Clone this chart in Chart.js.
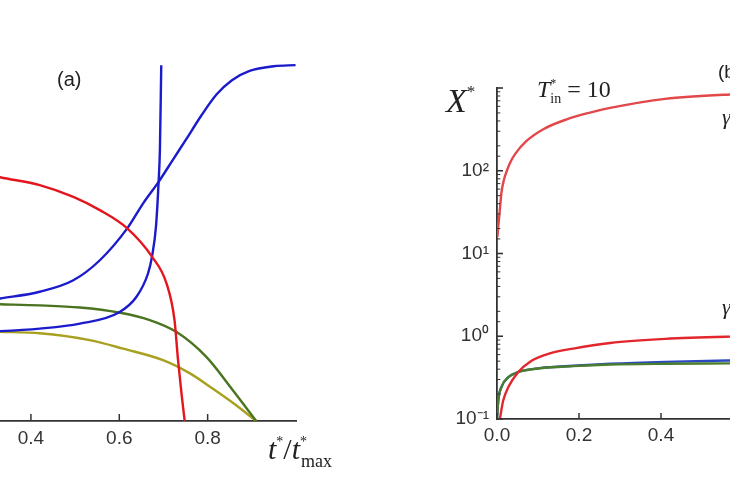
<!DOCTYPE html>
<html>
<head>
<meta charset="utf-8">
<script src="https://cdn.jsdelivr.net/npm/chart.js@4"></script>
<style>
  html, body { margin: 0; padding: 0; background: #fff; }
  body { width: 730px; height: 486px; overflow: hidden; position: relative; }
  canvas { position: absolute; top: 0; }
  .lbl { position: absolute; color: #222; white-space: nowrap; line-height: 1; }
  .serif { font-family: "Liberation Serif", "DejaVu Serif", serif; }
  .sans { font-family: "Liberation Sans", Arial, sans-serif; }
  .it { font-style: italic; }
  sup, sub { font-style: normal; line-height: 0; }
</style>
</head>
<body>
<canvas id="left" width="365" height="486" style="left:0"></canvas>
<canvas id="right" width="600" height="486" style="left:365px"></canvas>

<div class="lbl sans" style="left:57px; top:69px; font-size:20px;">(a)</div>
<div class="lbl serif" style="left:268px; top:434px; font-size:30px;"><span class="it">t</span><sup style="font-size:14px; vertical-align:13px;">*</sup>/<span class="it">t</span><sup style="font-size:14px; vertical-align:13px;">*</sup><sub style="font-size:18px; vertical-align:-8px; margin-left:-6px;">max</sub></div>

<div class="lbl serif it" style="left:446px; top:84px; font-size:34px;">X<sup style="font-size:17px; vertical-align:15px;">*</sup></div>
<div class="lbl serif" style="left:537px; top:77px; font-size:24px;"><span class="it">T</span><sup style="font-size:12px; vertical-align:10px;">*</sup><sub style="font-size:14px; vertical-align:-6px; margin-left:-6px;">in</sub> = 10</div>
<div class="lbl sans" style="left:718px; top:62px; font-size:19px;">(b)</div>
<div class="lbl serif it" style="left:722px; top:106px; font-size:22px;">γ</div>
<div class="lbl serif it" style="left:722px; top:296px; font-size:22px;">γ</div>

<script>
// ---- panel (a) data ----
const aRedX   = [0.30, 0.33, 0.42, 0.496, 0.556, 0.618, 0.674, 0.707, 0.725, 0.733, 0.741, 0.748];
const aRedY   = [0.69, 0.681, 0.659, 0.626, 0.589, 0.538, 0.459, 0.384, 0.282, 0.170, 0.075, 0.0];
const aBlue1X = [0.30, 0.33, 0.42, 0.496, 0.556, 0.618, 0.654, 0.689, 0.722, 0.752, 0.785, 0.820, 0.855, 0.895, 0.95, 0.999];
const aBlue1Y = [0.336, 0.342, 0.361, 0.393, 0.449, 0.538, 0.608, 0.668, 0.731, 0.788, 0.852, 0.912, 0.952, 0.978, 0.991, 0.994];
const aBlue2X = [0.30, 0.33, 0.42, 0.511, 0.599, 0.639, 0.665, 0.674, 0.683, 0.689, 0.692, 0.695];
const aBlue2Y = [0.250, 0.251, 0.258, 0.272, 0.303, 0.347, 0.412, 0.459, 0.542, 0.668, 0.760, 0.994];
const aGreenX = [0.30, 0.33, 0.42, 0.511, 0.599, 0.669, 0.729, 0.797, 0.857, 0.910];
const aGreenY = [0.327, 0.326, 0.323, 0.317, 0.303, 0.282, 0.249, 0.179, 0.086, 0.0];
const aOliveX = [0.30, 0.33, 0.42, 0.533, 0.609, 0.699, 0.760, 0.812, 0.860, 0.910];
const aOliveY = [0.250, 0.249, 0.245, 0.226, 0.202, 0.170, 0.133, 0.090, 0.048, 0.0];
const aTicks  = [0.4, 0.6, 0.8];

// ---- panel (b) data ----
const bRedTopX = [0.001, 0.003, 0.006, 0.011, 0.017, 0.024, 0.032, 0.044, 0.072, 0.113, 0.17, 0.227, 0.276, 0.41, 0.568, 0.62];
const bRedTopY = [15.9, 21, 30, 55, 78, 100, 125, 159, 229, 318, 418, 505, 575, 740, 836, 850];
const bRedLowX = [0.007, 0.015, 0.028, 0.052, 0.080, 0.129, 0.186, 0.276, 0.41, 0.568, 0.62];
const bRedLowY = [0.1, 0.166, 0.245, 0.37, 0.49, 0.62, 0.71, 0.83, 0.93, 0.99, 1.0];
const bGreenX  = [0.0, 0.003, 0.011, 0.028, 0.052, 0.105, 0.186, 0.276, 0.41, 0.568, 0.62];
const bGreenY  = [0.1, 0.166, 0.245, 0.32, 0.37, 0.41, 0.436, 0.455, 0.465, 0.47, 0.472];
const bBlueX   = [0.0, 0.003, 0.011, 0.028, 0.052, 0.105, 0.186, 0.276, 0.41, 0.568, 0.62];
const bBlueY   = [0.1, 0.166, 0.245, 0.32, 0.37, 0.412, 0.44, 0.465, 0.49, 0.51, 0.515];
const bXTicks  = [0.0, 0.2, 0.4, 0.6, 0.8, 1.0];
const bYLabels = { 0.1: '10\u207B\u00B9', 1: '10\u2070', 10: '10\u00B9', 100: '10\u00B2' };

const pts = (xs, ys) => xs.map((x, i) => ({ x: x, y: ys[i] }));
const line = (xs, ys, color) => ({
  data: pts(xs, ys),
  borderColor: color,
  borderWidth: 2.4,
  pointRadius: 0,
  cubicInterpolationMode: 'monotone',
  fill: false
});

const axisColor = '#333';
const tickFont = { family: '"Liberation Sans", Arial, sans-serif', size: 19 };

// tick marks pointing into the plot
const innerTicks = {
  id: 'innerTicks',
  afterDraw(chart, args, opts) {
    const ctx = chart.ctx;
    const xs = chart.scales.x, ys = chart.scales.y;
    ctx.save();
    ctx.strokeStyle = axisColor;
    ctx.lineWidth = 1.5;
    if (opts.x) {
      xs.ticks.forEach(t => {
        const px = xs.getPixelForValue(t.value);
        ctx.beginPath();
        ctx.moveTo(px, xs.top);
        ctx.lineTo(px, xs.top - opts.x);
        ctx.stroke();
      });
    }
    if (opts.y && ys.options.display) {
      ys.ticks.forEach(t => {
        const py = ys.getPixelForValue(t.value);
        const l = Math.log10(t.value);
        const major = Math.abs(l - Math.round(l)) < 1e-6;
        const len = major ? opts.y : opts.y * 0.55;
        ctx.lineWidth = major ? 1.6 : 1;
        ctx.beginPath();
        ctx.moveTo(ys.right, py);
        ctx.lineTo(ys.right + len, py);
        ctx.stroke();
      });
    }
    ctx.restore();
  }
};

new Chart(document.getElementById('left').getContext('2d'), {
  type: 'line',
  data: {
    datasets: [
      line(aRedX, aRedY, '#e3161e'),
      line(aBlue1X, aBlue1Y, '#1b1bcc'),
      line(aBlue2X, aBlue2Y, '#1b1bcc'),
      line(aGreenX, aGreenY, '#4a7420'),
      line(aOliveX, aOliveY, '#a8a020')
    ]
  },
  options: {
    responsive: false,
    animation: false,
    layout: { padding: { left: 0, right: 69, top: 63, bottom: 0 } },
    plugins: { legend: { display: false }, tooltip: { enabled: false }, innerTicks: { x: 7 } },
    scales: {
      x: {
        type: 'linear', min: 0.33, max: 1.0,
        afterBuildTicks: s => { s.ticks = aTicks.map(v => ({ value: v })); },
        afterFit: s => { s.height = 65; },
        grid: { display: false, drawTicks: false },
        border: { color: axisColor, width: 1.8 },
        ticks: { padding: 6, color: axisColor, font: tickFont, autoSkip: false, maxRotation: 0,
                 callback: v => v.toFixed(1) }
      },
      y: { type: 'linear', min: 0, max: 1, display: false }
    }
  },
  plugins: [innerTicks]
});

new Chart(document.getElementById('right').getContext('2d'), {
  type: 'line',
  data: {
    datasets: [
      line(bRedTopX, bRedTopY, '#e2474a'),
      line(bRedLowX, bRedLowY, '#e2262c'),
      line(bGreenX, bGreenY, '#4a7d2c'),
      line(bBlueX, bBlueY, '#2a48c4')
    ]
  },
  options: {
    responsive: false,
    animation: false,
    layout: { padding: { left: 0, right: 58, top: 88, bottom: 0 } },
    plugins: { legend: { display: false }, tooltip: { enabled: false }, innerTicks: { x: 6, y: 6 } },
    scales: {
      x: {
        type: 'linear', min: 0, max: 1.0,
        afterBuildTicks: s => { s.ticks = bXTicks.map(v => ({ value: v })); },
        afterFit: s => { s.height = 67; },
        grid: { display: false, drawTicks: false },
        border: { color: axisColor, width: 1.8 },
        ticks: { padding: 5, color: axisColor, font: tickFont, autoSkip: false, maxRotation: 0,
                 callback: v => v.toFixed(1) }
      },
      y: {
        type: 'logarithmic', min: 0.1, max: 1000,
        afterFit: s => { s.width = 132; },
        grid: { display: false, drawTicks: false },
        border: { color: axisColor, width: 1.8 },
        ticks: { padding: 8, color: axisColor, font: tickFont, autoSkip: false,
                 callback: v => bYLabels[v] || '' }
      }
    }
  },
  plugins: [innerTicks]
});
</script>
</body>
</html>
